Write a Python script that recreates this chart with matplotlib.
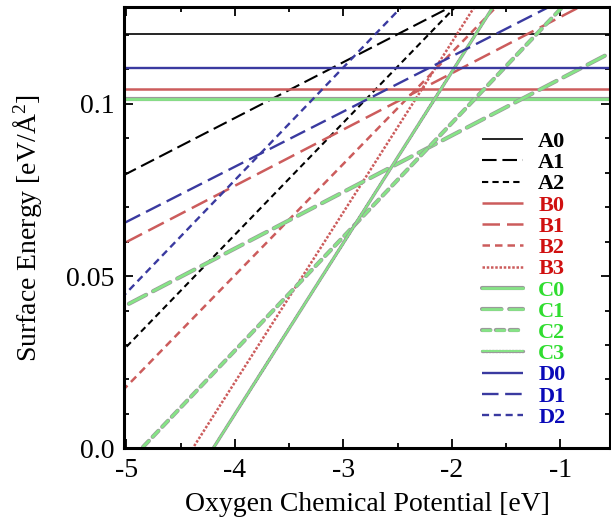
import matplotlib
matplotlib.use("Agg")
import matplotlib.pyplot as plt
import matplotlib.patheffects as pe
from matplotlib.ticker import MultipleLocator, FixedLocator, FixedFormatter

plt.rcParams['font.family'] = ['Liberation Serif', 'DejaVu Serif']
plt.rcParams['mathtext.fontset'] = 'custom'
plt.rcParams['mathtext.rm'] = 'Liberation Serif'
plt.rcParams['mathtext.default'] = 'rm'
plt.rcParams['axes.unicode_minus'] = False

# end points of each straight line
x_ends = [-5.2, -0.4]
names = ['A0', 'A1', 'A2', 'B0', 'B1', 'B2', 'B3',
         'C0', 'C1', 'C2', 'C3', 'D0', 'D1', 'D2']
y_left = [0.1201, 0.0764, 0.0230, 0.1042, 0.0566, 0.0115, -0.0399,
          0.1014, 0.0383, -0.0112, -0.0495, 0.1102, 0.0625, 0.0386]
y_right = [0.1201, 0.1541, 0.1790, 0.1042, 0.1349, 0.1665, 0.1967,
           0.1014, 0.1170, 0.1472, 0.1886, 0.1102, 0.1393, 0.1955]

xticks = [-5, -4, -3, -2, -1]
yticks = [0.0, 0.05, 0.1]
ytick_labels = ['0.0', '0.05', '0.1']

line_col = {'A': 'black', 'B': '#cc5c5c', 'C': '#86e486', 'D': '#3a3aa0'}
text_col = {'A': 'black', 'B': '#d01010', 'C': '#30dd30', 'D': '#0a0ab8'}
styles = {'0': (0, ()), '1': (0, (7, 2.8)), '2': (0, (3, 2)), '3': (0, (1, 0.7))}
widths = {'A': 1.5, 'B': 1.8, 'C': 2.0, 'D': 1.7}

fig = plt.figure(figsize=(6.11, 5.31), dpi=100)
ax = fig.add_axes([0.2029, 0.1554, 0.7954, 0.8315])

for n, y0, y1 in zip(names, y_left, y_right):
    fam, k = n[0], n[1]
    lw = widths[fam]
    if k == '3':
        lw = 1.8 if fam == 'B' else 1.4
    if n == 'A0':
        lw = 1.2
    kw = {}
    if fam == 'C':
        kw['path_effects'] = [pe.Stroke(linewidth=lw + 1.0, foreground='#9a9a9a'), pe.Normal()]
        kw['dash_capstyle'] = 'round'
    ax.plot(x_ends, [y0, y1], color=line_col[fam], linestyle=styles[k],
            linewidth=lw, label=n, **kw)

ax.set_xlim(-5.023, -0.544)
ax.set_ylim(0, 0.128)

ax.xaxis.set_major_locator(FixedLocator(xticks))
ax.xaxis.set_minor_locator(MultipleLocator(0.5))
ax.yaxis.set_major_locator(FixedLocator(yticks))
ax.yaxis.set_major_formatter(FixedFormatter(ytick_labels))
ax.yaxis.set_minor_locator(MultipleLocator(0.01))
ax.tick_params(which='both', direction='in', top=True, right=True, labelsize=20, width=1.3)
ax.tick_params(which='major', length=6.5, pad=7)
ax.tick_params(which='minor', length=3.5)
for s in ax.spines.values():
    s.set_linewidth(2.2)

ax.set_xlabel('Oxygen Chemical Potential [eV]', fontsize=20, labelpad=6)
ax.set_ylabel('Surface Energy [eV/Å$^{2}$]', fontsize=20, labelpad=16)

leg = ax.legend(loc='upper left', bbox_to_anchor=(0.7366, 0.718), frameon=False,
                prop={'weight': 'bold', 'size': 16}, handlelength=1.85,
                handletextpad=0.68, labelspacing=0.03, borderpad=0, borderaxespad=0)
for t in leg.get_texts():
    t.set_color(text_col[t.get_text()[0]])

fig.savefig('out.png', dpi=100)
